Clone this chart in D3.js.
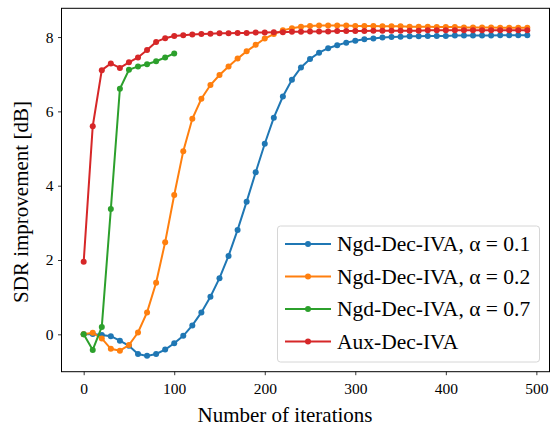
<!DOCTYPE html>
<html>
<head>
<meta charset="utf-8">
<script src="https://cdn.jsdelivr.net/npm/d3@7"></script>
<style>
  body { margin: 0; background: #fff; }
  svg text { font-family: "Liberation Serif", "DejaVu Serif", serif; fill: #000; }
</style>
</head>
<body>
<div id="chart"></div>
<script>
const width = 555;
const height = 427;

// iteration counts (every 10 iterations)
const iters = [0, 10, 20, 30, 40, 50, 60, 70, 80, 90, 100, 110, 120, 130, 140, 150, 160, 170, 180, 190,
  200, 210, 220, 230, 240, 250, 260, 270, 280, 290, 300, 310, 320, 330, 340, 350, 360, 370, 380, 390,
  400, 410, 420, 430, 440, 450, 460, 470, 480, 490];

const ngd01 = [0.00, 0.01, -0.02, -0.05, -0.17, -0.31, -0.53, -0.58, -0.53, -0.41, -0.24, -0.04, 0.24, 0.59,
  1.01, 1.51, 2.11, 2.81, 3.57, 4.36, 5.13, 5.83, 6.40, 6.85, 7.18, 7.41, 7.58, 7.70, 7.78, 7.85, 7.90,
  7.94, 7.96, 7.99, 8.00, 8.01, 8.02, 8.02, 8.03, 8.03, 8.03, 8.04, 8.04, 8.04, 8.04, 8.04, 8.05, 8.05, 8.05, 8.05];

const ngd02 = [0.00, 0.04, -0.11, -0.39, -0.44, -0.29, 0.05, 0.59, 1.39, 2.48, 3.75, 4.93, 5.80, 6.34,
  6.71, 6.98, 7.21, 7.42, 7.62, 7.79, 7.96, 8.08, 8.18, 8.24, 8.28, 8.30, 8.31, 8.31, 8.31, 8.31, 8.30,
  8.30, 8.30, 8.29, 8.29, 8.29, 8.28, 8.28, 8.28, 8.27, 8.27, 8.27, 8.26, 8.26, 8.26, 8.26, 8.25, 8.25, 8.25, 8.25];

const ngd07 = [0.00, -0.42, 0.20, 3.37, 6.61, 7.12, 7.21, 7.27, 7.35, 7.45, 7.56];

const aux = [1.95, 5.60, 7.11, 7.29, 7.17, 7.32, 7.45, 7.65, 7.87, 7.97, 8.03, 8.05, 8.07, 8.08, 8.09,
  8.10, 8.10, 8.11, 8.11, 8.12, 8.12, 8.13, 8.13, 8.14, 8.14, 8.15, 8.15, 8.15, 8.16, 8.16, 8.16, 8.16,
  8.17, 8.17, 8.17, 8.17, 8.17, 8.17, 8.18, 8.18, 8.18, 8.18, 8.18, 8.18, 8.18, 8.18, 8.18, 8.18, 8.18, 8.18];

const seriesNames = ["Ngd-Dec-IVA, \u03b1 = 0.1", "Ngd-Dec-IVA, \u03b1 = 0.2", "Ngd-Dec-IVA, \u03b1 = 0.7", "Aux-Dec-IVA"];
const seriesValues = [ngd01, ngd02, ngd07, aux];
const colors = ["#1f77b4", "#ff7f0e", "#2ca02c", "#d62728"];

const xTicks = [0, 100, 200, 300, 400, 500];
const yTicks = [0, 2, 4, 6, 8];

const plot = {left: 61.5, right: 549.5, top: 8.3, bottom: 371.7};

const svg = d3.select("#chart")
  .append("svg")
    .attr("width", width)
    .attr("height", height);

const xScale = d3.scaleLinear()
  .domain([-24.5, 514.5])
  .range([plot.left, plot.right]);

const yScale = d3.scaleLinear()
  .domain([-1.006, 8.774])
  .range([plot.bottom, plot.top]);

// axes
const xAxis = svg.append("g")
  .attr("transform", "translate(0," + plot.bottom + ")")
  .call(d3.axisBottom(xScale).tickValues(xTicks).tickSize(3.5).tickPadding(7.5));

const yAxis = svg.append("g")
  .attr("transform", "translate(" + plot.left + ",0)")
  .call(d3.axisLeft(yScale).tickValues(yTicks).tickSize(3.5).tickPadding(4.5));

[xAxis, yAxis].forEach(function(ax) {
  ax.attr("font-family", null);
  ax.select(".domain").remove();
  ax.selectAll(".tick line").attr("stroke", "#000").attr("stroke-width", 0.8);
  ax.selectAll(".tick text")
    .style("font-family", "'Liberation Serif', serif")
    .style("font-size", "15.5px");
});

// lines
const line = d3.line()
  .x(function(d) { return xScale(d[0]); })
  .y(function(d) { return yScale(d[1]); });

seriesValues.forEach(function(vals, k) {
  const pts = vals.map(function(v, i) { return [iters[i], v]; });
  const g = svg.append("g");
  g.append("path")
    .datum(pts)
    .attr("fill", "none")
    .attr("stroke", colors[k])
    .attr("stroke-width", 2)
    .attr("d", line);
  g.selectAll("circle")
    .data(pts)
    .enter().append("circle")
      .attr("cx", function(d) { return xScale(d[0]); })
      .attr("cy", function(d) { return yScale(d[1]); })
      .attr("r", 3)
      .attr("fill", colors[k]);
});

// frame
svg.append("rect")
  .attr("x", plot.left)
  .attr("y", plot.top)
  .attr("width", plot.right - plot.left)
  .attr("height", plot.bottom - plot.top)
  .attr("fill", "none")
  .attr("stroke", "#000")
  .attr("stroke-width", 1);

// axis labels
svg.append("text")
  .attr("x", 285)
  .attr("y", 422)
  .attr("text-anchor", "middle")
  .style("font-size", "21px")
  .text("Number of iterations");

svg.append("text")
  .attr("transform", "translate(28,202) rotate(-90)")
  .attr("text-anchor", "middle")
  .style("font-size", "21px")
  .text("SDR improvement [dB]");

// legend
const legend = svg.append("g");
legend.append("rect")
  .attr("x", 277.5)
  .attr("y", 226)
  .attr("width", 262)
  .attr("height", 136)
  .attr("rx", 3)
  .attr("fill", "#fff")
  .attr("fill-opacity", 0.8)
  .attr("stroke", "#d6d6d6")
  .attr("stroke-width", 1);

seriesNames.forEach(function(name, k) {
  const cy = 244 + k * 32.5;
  legend.append("line")
    .attr("x1", 285).attr("x2", 331)
    .attr("y1", cy).attr("y2", cy)
    .attr("stroke", colors[k])
    .attr("stroke-width", 2);
  legend.append("circle")
    .attr("cx", 308).attr("cy", cy)
    .attr("r", 3)
    .attr("fill", colors[k]);
  legend.append("text")
    .attr("x", 337)
    .attr("y", cy + 7)
    .style("font-size", "21.5px")
    .text(name);
});
</script>
</body>
</html>
